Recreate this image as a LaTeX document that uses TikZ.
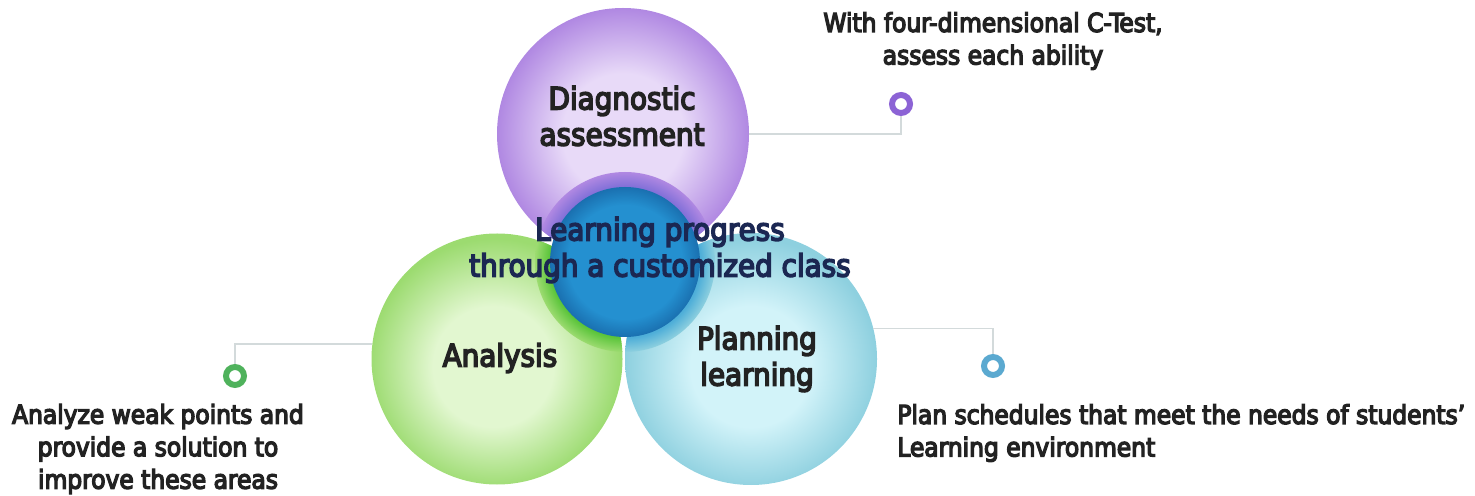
\documentclass[tikz,border=0pt]{standalone}
\usepackage{fontspec}
\usepackage{xcolor}
\usepackage{tikz}
\usetikzlibrary{positioning,calc}

\newfontfamily\bubblefont[FakeBold=5]{DejaVu Sans Condensed}

%% ── Colours ──────────────────────────────────────────────────────────────────
\definecolor{diagEdge}{HTML}{B088E2}
\definecolor{diagCore}{HTML}{E8DAF8}
\definecolor{diagHalo}{HTML}{8270D8}
\definecolor{anaEdge}{HTML}{9CDB70}
\definecolor{anaCore}{HTML}{E2F7D0}
\definecolor{anaHalo}{HTML}{5AC43A}
\definecolor{planEdge}{HTML}{8ED0DF}
\definecolor{planCore}{HTML}{D2F3F9}
\definecolor{planHalo}{HTML}{4EAED8}
\definecolor{hubEdge}{HTML}{1A70B0}
\definecolor{hubCore}{HTML}{2490D0}
\definecolor{hubText}{HTML}{1B2752}
\definecolor{leaderGray}{HTML}{D3DADB}
\definecolor{labelInk}{HTML}{222222}
\definecolor{ringViolet}{HTML}{8C63D5}
\definecolor{ringGreen}{HTML}{4FB25C}
\definecolor{ringBlue}{HTML}{5BA9D0}

%% ── Sphere shadings (light core, saturated rim at 25bp) ──────────────────────
\pgfdeclareradialshading{diagshade}{\pgfpoint{0bp}{0bp}}%
  {color(0bp)=(diagCore); color(12bp)=(diagCore); color(25bp)=(diagEdge);
   color(50bp)=(diagEdge)}
\pgfdeclareradialshading{anashade}{\pgfpoint{-1bp}{-2bp}}%
  {color(0bp)=(anaCore); color(12bp)=(anaCore); color(25bp)=(anaEdge);
   color(50bp)=(anaEdge)}
\pgfdeclareradialshading{planshade}{\pgfpoint{0bp}{-2bp}}%
  {color(0bp)=(planCore); color(12bp)=(planCore); color(25bp)=(planEdge);
   color(50bp)=(planEdge)}
\pgfdeclareradialshading{hubshade}{\pgfpoint{0bp}{0bp}}%
  {color(0bp)=(hubCore); color(19bp)=(hubCore); color(25bp)=(hubEdge);
   color(50bp)=(hubEdge)}
% halo glow: solid under the hub, fading into the sphere rim
\pgfdeclareradialshading{diagglow}{\pgfpoint{0bp}{0bp}}%
  {color(0bp)=(diagHalo); color(21bp)=(diagHalo); color(25bp)=(diagEdge);
   color(50bp)=(diagEdge)}
\pgfdeclareradialshading{anaglow}{\pgfpoint{0bp}{0bp}}%
  {color(0bp)=(anaHalo); color(21bp)=(anaHalo); color(25bp)=(anaEdge);
   color(50bp)=(anaEdge)}
\pgfdeclareradialshading{planglow}{\pgfpoint{0bp}{0bp}}%
  {color(0bp)=(planHalo); color(21bp)=(planHalo); color(25bp)=(planEdge);
   color(50bp)=(planEdge)}

\tikzset{
  bubble/.style={circle, inner sep=0pt, outer sep=0pt},
  ring/.style={circle, inner sep=0pt, outer sep=1.7pt, minimum size=0.36cm,
               line width=3.4pt, fill=white},
  leader/.style={leaderGray, line width=1.1pt},
  biglabel/.style={labelInk, align=center, inner sep=0pt,
                   font=\bubblefont\fontsize{17.6}{20.5}\selectfont},
  sidelabel/.style={labelInk, inner sep=0pt,
                    font=\bubblefont\fontsize{14.8}{18.5}\selectfont}
}

\begin{document}
\begin{tikzpicture}

%% ── Canvas: 1cm = 50px ───────────────────────────────────────────────────────
\useasboundingbox (0,0) rectangle (29.5,9.9);

%% ── Three spheres ────────────────────────────────────────────────────────────
\node[bubble, minimum size=5.02cm, shading=anashade]  (ana)  at (9.94, 2.72) {};
\node[bubble, minimum size=5.04cm, shading=planshade] (plan) at (15.02, 2.72) {};
\node[bubble, minimum size=5.04cm, shading=diagshade] (diag) at (12.46, 7.22) {};

%% ── Halo round the hub, tinted by each sphere ────────────────────────────────
\coordinate (hubC) at (12.50, 4.66);
\begin{scope}
  \clip (ana.center) circle (2.51);
  \shade[shading=anaglow] (hubC) circle (1.80);
\end{scope}
\begin{scope}
  \clip (plan.center) circle (2.52);
  \shade[shading=planglow] (hubC) circle (1.80);
\end{scope}
\begin{scope}
  \clip (diag.center) circle (2.52);
  \shade[shading=diagglow] (hubC) circle (1.80);
\end{scope}

%% ── Centre hub ───────────────────────────────────────────────────────────────
\node[bubble, minimum size=3.0cm, shading=hubshade] (hub) at (hubC) {};

%% ── Sphere labels ────────────────────────────────────────────────────────────
\node[biglabel] (diagText) at (12.44, 7.58) {Diagnostic\\assessment};
\node[biglabel] (anaText)  at (10.00, 2.74) {Analysis};
\node[biglabel] (planText) at (15.14, 2.72) {Planning\\learning};
\node[biglabel, hubText] (hubLabel) at (13.20, 4.90)
  {Learning progress\\through a customized class};

%% ── Small rings ──────────────────────────────────────────────────────────────
\node[ring, draw=ringViolet] (ringD) at (18.02, 7.82) {};
\node[ring, draw=ringGreen]  (ringA) at (4.70, 2.38) {};
\node[ring, draw=ringBlue]   (ringP) at (19.86, 2.58) {};

%% ── Leader lines ─────────────────────────────────────────────────────────────
\draw[leader] (diag.east) -| (ringD.south);
\draw[leader] (ana.173)   -| (ringA.north);
\draw[leader] (plan.14)   -| (ringP.north);

%% ── Side notes ───────────────────────────────────────────────────────────────
\node[sidelabel, align=center] (noteD) at (19.86, 9.08)
  {With four-dimensional C-Test,\\assess each ability};
\node[sidelabel, align=center] (noteA) at (3.16, 0.92)
  {Analyze weak points and\\provide a solution to\\improve these areas};
\node[sidelabel, align=left, anchor=west] (noteP) at (17.94, 1.24)
  {Plan schedules that meet the needs of students’\\Learning environment};

\end{tikzpicture}
\end{document}
